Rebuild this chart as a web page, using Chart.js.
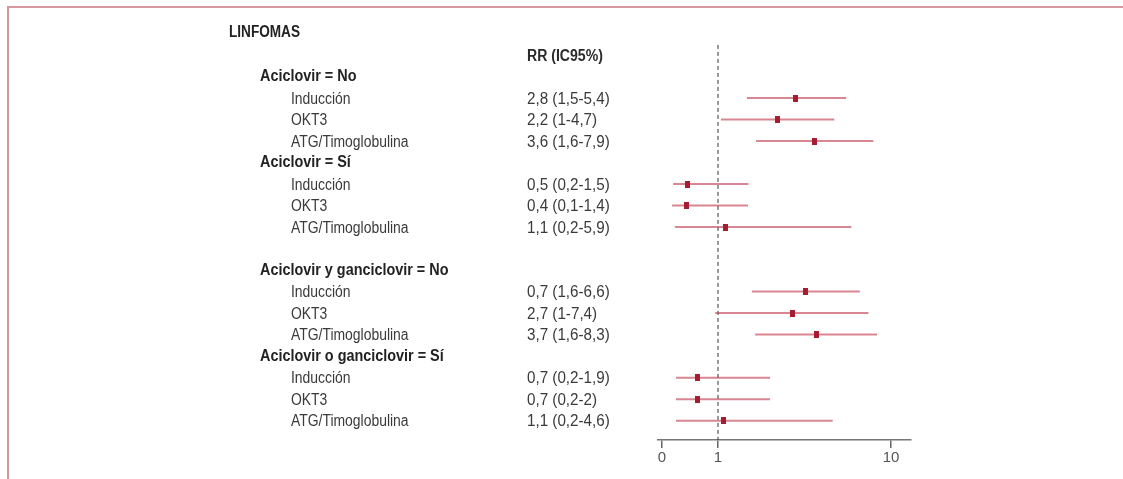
<!DOCTYPE html>
<html>
<head>
<meta charset="utf-8">
<script src="https://cdn.jsdelivr.net/npm/chart.js@4.4.1/dist/chart.umd.min.js"></script>
<style>
  html, body { margin: 0; padding: 0; background: #ffffff; }
  #wrap { position: relative; width: 1123px; height: 479px; overflow: hidden; }
  #frame { position: absolute; left: 7px; top: 6px; right: 0; bottom: 0;
           border-top: 2px solid #d9979f; border-left: 2px solid #d9979f; }
  canvas { position: absolute; left: 0; top: 0; }
</style>
</head>
<body>
<div id="wrap">
  <div id="frame"></div>
  <canvas id="c" width="1123" height="479"></canvas>
</div>
<script>
// ---------- data ----------
const title = 'LINFOMAS';
const rrHeader = 'RR (IC95%)';
const groups = ['Aciclovir = No', 'Aciclovir = Sí', 'Aciclovir y ganciclovir = No', 'Aciclovir o ganciclovir = Sí'];
const treatments = ['Inducción', 'OKT3', 'ATG/Timoglobulina'];
const rrLabels = [
  '2,8 (1,5-5,4)', '2,2 (1-4,7)', '3,6 (1,6-7,9)',
  '0,5 (0,2-1,5)', '0,4 (0,1-1,4)', '1,1 (0,2-5,9)',
  '0,7 (1,6-6,6)', '2,7 (1-7,4)', '3,7 (1,6-8,3)',
  '0,7 (0,2-1,9)', '0,7 (0,2-2)', '1,1 (0,2-4,6)'
];
const rrPoint = [2.8, 2.2, 3.6, 0.45, 0.43, 1.1, 3.2, 2.7, 3.7, 0.63, 0.63, 1.07];
const rrLow   = [1.47, 1.04, 1.66, 0.2, 0.18, 0.23, 1.57, 0.95, 1.64, 0.25, 0.25, 0.25];
const rrHigh  = [5.5, 4.7, 7.9, 1.5, 1.49, 5.9, 6.6, 7.4, 8.3, 2.0, 2.0, 4.6];
const xTickValues = [0, 1, 10];
const blankBeforeGroup = [false, false, true, false];

// ---------- axis transform: linear 0..1, logarithmic above 1 ----------
const LOG_SPAN = 173 / 56;
function tx(v) { return v <= 1 ? v : 1 + Math.log10(v) * LOG_SPAN; }

// ---------- build row layout ----------
const rows = [];
rows.push({ text: title, kind: 'title' });
rows.push({ text: rrHeader, kind: 'header' });
let k = 0;
groups.forEach((g, gi) => {
  if (blankBeforeGroup[gi]) rows.push({ text: '', kind: 'blank' });
  rows.push({ text: g, kind: 'group' });
  treatments.forEach(t => {
    rows.push({ text: t, kind: 'item', est: k });
    k++;
  });
});
const axisRow = rows.length;

const FONT = '"Liberation Sans", Arial, sans-serif';
const CI_COLOR = 'rgba(196, 72, 88, 0.66)';
const PT_COLOR = '#a61c30';

const marker = document.createElement('canvas');
marker.width = 5; marker.height = 7;
(function () { const m = marker.getContext('2d'); m.fillStyle = PT_COLOR; m.fillRect(0, 0, 5, 7); })();

const datasets = [];
rows.forEach((r, i) => {
  if (r.kind !== 'item') return;
  const e = r.est;
  datasets.push({
    type: 'line',
    data: [{ x: tx(rrLow[e]), y: i }, { x: tx(rrHigh[e]), y: i }],
    borderColor: CI_COLOR, borderWidth: 2, pointRadius: 0, fill: false, order: 2
  });
});
const pts = [];
rows.forEach((r, i) => { if (r.kind === 'item') pts.push({ x: tx(rrPoint[r.est]), y: i }); });
datasets.push({
  type: 'scatter', data: pts, pointStyle: marker, pointRadius: 4, borderWidth: 0,
  backgroundColor: PT_COLOR, order: 1
});
datasets.push({
  type: 'line', data: [{ x: tx(1), y: 0.53 }, { x: tx(1), y: axisRow }],
  borderColor: '#333333', borderWidth: 1, borderDash: [4, 3], pointRadius: 0, fill: false, order: 3
});

function drawScaled(ctx, text, x, y, sx) {
  ctx.save();
  ctx.translate(x, y);
  ctx.scale(sx, 1);
  ctx.fillText(text, 0, 0);
  ctx.restore();
}

const textPlugin = {
  id: 'forestText',
  afterDraw(chart) {
    const ctx = chart.ctx;
    const ys = chart.scales.y;
    ctx.save();
    ctx.textBaseline = 'alphabetic';
    ctx.textAlign = 'left';
    const capHalf = 0.716 * 16 / 2;
    rows.forEach((r, i) => {
      const y = ys.getPixelForValue(i) + capHalf;
      if (r.kind === 'title') {
        ctx.font = 'bold 16px ' + FONT; ctx.fillStyle = '#222222';
        drawScaled(ctx, r.text, 229, y - 2, 0.85);
      } else if (r.kind === 'header') {
        ctx.font = 'bold 16px ' + FONT; ctx.fillStyle = '#2a2a2a';
        drawScaled(ctx, r.text, 527, y, 0.88);
      } else if (r.kind === 'group') {
        ctx.font = 'bold 16px ' + FONT; ctx.fillStyle = '#222222';
        drawScaled(ctx, r.text, 260, y - 1, 0.9);
      } else if (r.kind === 'item') {
        ctx.font = '16px ' + FONT; ctx.fillStyle = '#3a3a3a';
        drawScaled(ctx, r.text, 291, y, 0.87);
        drawScaled(ctx, rrLabels[r.est], 527, y, 0.95);
      }
    });
    ctx.restore();
  }
};

new Chart(document.getElementById('c'), {
  data: { datasets },
  options: {
    responsive: false,
    animation: false,
    events: [],
    layout: { padding: { left: 658, right: 212, top: 12, bottom: 0 } },
    plugins: { legend: { display: false }, tooltip: { enabled: false } },
    scales: {
      x: {
        type: 'linear',
        min: -4 / 56,
        max: (911 - 662) / 56,
        afterBuildTicks(scale) { scale.ticks = xTickValues.map(v => ({ value: tx(v) })); },
        afterFit(scale) { scale.height = 39; },
        ticks: {
          callback: (val, idx) => String(xTickValues[idx]),
          color: '#555555', font: { family: FONT, size: 15 }, padding: 1, maxRotation: 0, autoSkip: false
        },
        grid: { display: true, drawOnChartArea: false, drawTicks: true, tickLength: 8, color: '#666666', lineWidth: 1.5 },
        border: { display: true, color: '#777777', width: 1.5 }
      },
      y: {
        type: 'linear', reverse: true, min: -1, max: axisRow - 0.1, display: false
      }
    }
  },
  plugins: [textPlugin]
});
</script>
</body>
</html>
